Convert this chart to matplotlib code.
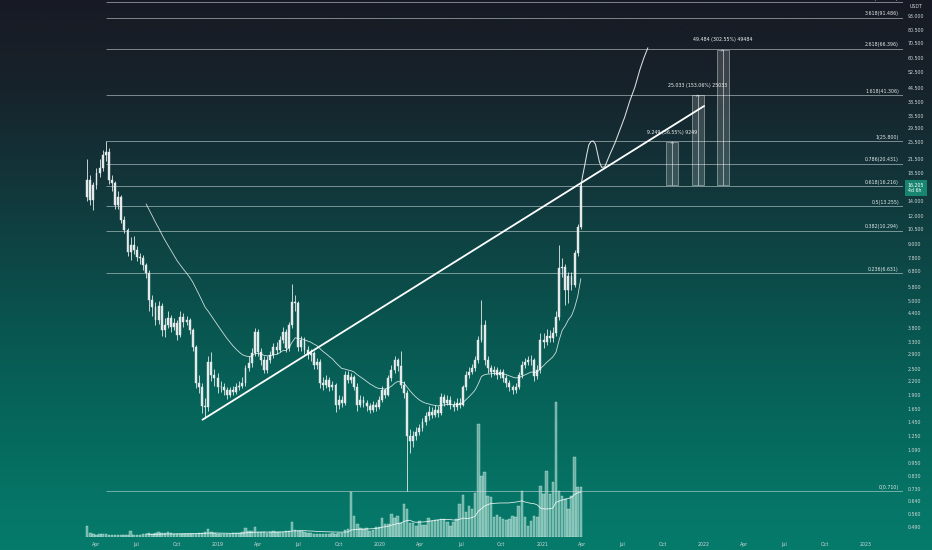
import numpy as np
import pandas as pd
import matplotlib
matplotlib.use("Agg")
import matplotlib.pyplot as plt
import matplotlib.dates as mdates
import matplotlib.transforms as mtransforms
from matplotlib.patches import Rectangle
from matplotlib.ticker import NullLocator, NullFormatter

# ---------------- data ----------------
first_week = "2018-03-12"
first_open = 14.5

closes = [17.30, 14.09, 16.43, 18.60, 19.60, 22.35, 23.05, 17.30, 16.77, 13.39,
          14.53, 11.48, 10.36, 8.27, 8.89, 8.44, 7.86, 7.78, 7.24, 6.67,
          5.06, 4.70, 4.12, 4.75, 3.72, 3.91, 4.21, 3.84, 4.00, 3.53,
          4.25, 4.04, 4.12, 3.72, 3.13, 2.16, 2.08, 1.70, 1.68, 2.68,
          2.34, 2.27, 2.06, 2.08, 2.01, 1.91, 2.01, 1.97, 2.06, 2.10,
          2.16, 2.52, 2.65, 2.94, 3.64, 2.97, 2.73, 2.47, 2.73, 2.88,
          3.13, 3.03, 3.36, 3.64, 3.10, 3.91, 4.95, 4.90, 3.13, 3.36,
          3.03, 2.88, 2.94, 2.60, 2.68, 2.16, 2.12, 2.23, 2.08, 2.12,
          1.73, 1.82, 1.76, 2.34, 2.23, 2.29, 2.08, 1.73, 1.82, 1.76,
          1.70, 1.64, 1.73, 1.68, 1.82, 2.01, 1.91, 2.27, 2.47, 2.73,
          2.57, 2.12, 1.95, 1.25, 1.19, 1.25, 1.31, 1.36, 1.44, 1.53,
          1.61, 1.56, 1.64, 1.59, 1.86, 1.76, 1.82, 1.73, 1.68, 1.76,
          1.73, 2.06, 2.34, 2.42, 2.52, 2.73, 3.36, 3.91, 2.73, 2.52,
          2.42, 2.47, 2.34, 2.42, 2.27, 2.16, 2.06, 2.01, 2.08, 2.34,
          2.60, 2.68, 2.73, 2.73, 2.32, 2.47, 3.36, 3.29, 3.50, 3.43,
          3.60, 4.25, 7.02, 7.10, 5.60, 6.46, 5.90, 8.19, 10.70, 16.205]

highs = [21.5, 18.2, 17.0, 19.5, 21.5, 23.5, 25.8, 24.0, 18.3, 17.2,
         15.5, 14.9, 11.9, 10.6, 9.6, 9.7, 8.8, 8.2, 8.0, 7.4,
         6.9, 5.3, 4.95, 5.0, 4.9, 4.2, 4.5, 4.35, 4.2, 4.1,
         4.5, 4.4, 4.3, 4.2, 3.8, 3.2, 2.35, 2.15, 1.85, 2.85,
         2.95, 2.5, 2.4, 2.2, 2.15, 2.08, 2.08, 2.1, 2.15, 2.2,
         2.3, 2.6, 2.85, 3.1, 3.8, 3.75, 3.1, 2.85, 2.85, 3.0,
         3.25, 3.3, 3.5, 3.85, 3.75, 4.05, 5.95, 5.3, 5.0, 3.5,
         3.45, 3.15, 3.05, 3.0, 2.8, 2.75, 2.3, 2.35, 2.3, 2.2,
         2.15, 1.9, 1.88, 2.45, 2.45, 2.4, 2.35, 2.15, 1.9, 1.88,
         1.82, 1.75, 1.8, 1.78, 1.88, 2.1, 2.05, 2.35, 2.6, 2.85,
         2.8, 3.0, 2.2, 2.0, 1.35, 1.32, 1.38, 1.42, 1.5, 1.6,
         1.7, 1.68, 1.72, 1.7, 1.95, 1.92, 1.9, 1.88, 1.8, 1.85,
         1.85, 2.12, 2.45, 2.55, 2.62, 2.85, 3.5, 5.06, 4.1, 2.85,
         2.6, 2.58, 2.55, 2.5, 2.48, 2.35, 2.22, 2.12, 2.15, 2.42,
         2.7, 2.8, 2.85, 2.88, 2.8, 2.6, 3.6, 3.6, 3.75, 3.7,
         3.85, 4.5, 8.9, 7.8, 7.3, 6.7, 6.7, 8.4, 11.0, 17.0]

lows = [13.9, 13.4, 12.7, 15.8, 17.8, 19.0, 21.0, 16.6, 15.5, 12.9,
        12.8, 11.1, 10.0, 7.9, 7.6, 8.1, 7.5, 7.3, 6.9, 6.3,
        4.5, 4.3, 3.9, 3.95, 3.5, 3.45, 3.8, 3.65, 3.7, 3.35,
        3.45, 3.85, 3.9, 3.55, 3.0, 2.05, 1.95, 1.58, 1.50, 1.62,
        2.2, 2.1, 1.95, 1.96, 1.9, 1.83, 1.86, 1.9, 1.92, 2.0,
        2.04, 2.1, 2.45, 2.55, 2.85, 2.85, 2.6, 2.38, 2.4, 2.65,
        2.8, 2.9, 2.95, 3.25, 2.95, 3.0, 3.8, 4.5, 3.0, 3.0,
        2.9, 2.75, 2.7, 2.5, 2.5, 2.05, 2.0, 2.05, 1.98, 2.0,
        1.6, 1.65, 1.68, 1.72, 2.15, 2.15, 2.0, 1.62, 1.68, 1.68,
        1.62, 1.58, 1.6, 1.62, 1.65, 1.78, 1.85, 1.88, 2.2, 2.4,
        2.45, 2.05, 1.85, 0.71, 1.05, 1.12, 1.2, 1.26, 1.32, 1.4,
        1.48, 1.5, 1.52, 1.52, 1.55, 1.7, 1.72, 1.66, 1.62, 1.64,
        1.67, 1.7, 2.0, 2.28, 2.36, 2.45, 2.65, 3.3, 2.6, 2.4,
        2.3, 2.34, 2.25, 2.28, 2.18, 2.08, 1.98, 1.93, 1.95, 2.02,
        2.28, 2.52, 2.6, 2.6, 2.2, 2.25, 2.4, 3.1, 3.2, 3.3,
        3.3, 3.5, 4.1, 6.4, 4.8, 4.9, 5.6, 5.8, 7.9, 10.5]

volumes = [11, 4, 3, 2, 3, 3, 3, 2, 2, 2, 2, 2, 2, 2,
           6, 2, 2, 2, 3, 3, 4, 3, 4, 5, 4, 4, 5, 4, 3, 3, 3, 3, 3, 3,
           3, 3, 4, 4, 5, 8, 5, 4, 3, 3, 3, 3, 3, 4, 4, 4, 5, 9, 6, 6,
           10, 5, 5, 5, 4, 5, 6, 5, 5, 5, 6, 6, 15, 7, 6, 6, 5, 4, 4, 3,
           3, 3, 3, 3, 3, 4, 3, 4, 4, 7, 8, 45, 21, 13, 9, 8, 9, 6, 7, 10,
           10, 19, 13, 13, 23, 19, 21, 14, 33, 28, 14, 14, 11, 16, 12, 12, 19, 16, 17, 17,
           18, 18, 15, 11, 15, 18, 33, 42, 25, 31, 28, 44, 113, 61, 65, 41, 40, 20, 22, 20,
           18, 17, 18, 21, 20, 31, 46, 20, 11, 16, 21, 20, 51, 43, 66, 43, 55, 135, 46, 41,
           38, 28, 41, 80, 50, 50]

fib_low = 0.710
fib_high = 25.800
fib_ratios = [0, 0.236, 0.382, 0.5, 0.618, 0.786, 1, 1.618, 2.618, 3.618, 4.236]
fib_ratio_labels = ["0", "0.236", "0.382", "0.5", "0.618", "0.786", "1",
                    "1.618", "2.618", "3.618", "4.236"]

price_ticks = [93.0, 80.5, 70.5, 60.5, 52.5, 44.5, 38.5, 33.5, 29.5, 25.5, 21.5,
               18.5, 14.0, 12.0, 10.5, 9.0, 7.8, 6.8, 5.8, 5.0, 4.4, 3.8, 3.3,
               2.9, 2.5, 2.2, 1.9, 1.65, 1.45, 1.25, 1.09, 0.95, 0.83, 0.73,
               0.64, 0.56, 0.49]
last_price = 16.205
last_timer = "4d 6h"
quote_ccy = "USDT"

trend_dates = ["2018-11-27", "2022-01-01"]
trend_prices = [1.48, 36.95]

proj_dates = ["2021-03-29", "2021-04-02", "2021-04-07", "2021-04-12", "2021-04-16",
              "2021-04-21", "2021-04-26", "2021-05-01", "2021-05-05", "2021-05-10",
              "2021-05-15", "2021-05-22", "2021-06-02", "2021-06-14", "2021-06-25",
              "2021-07-06", "2021-07-17", "2021-07-29", "2021-08-09", "2021-08-18",
              "2021-08-27"]
proj_prices = [16.2, 18.0, 20.2, 22.8, 24.8, 25.7, 25.8, 25.0, 23.05, 20.8,
               19.7, 19.8, 22.35, 25.3, 28.9, 33.0, 38.7, 44.9, 53.5, 60.4, 67.0]

range_base = 16.355
range_starts = ["2021-10-08", "2021-12-04", "2022-01-29"]
range_days = 27
range_deltas = [9.249, 25.033, 49.484]
range_pcts = [56.55, 153.06, 302.55]
range_ticks = [9249, 25033, 49484]

ema_len = 20
vol_ma_len = 20

# ---------------- layout ----------------
W, H = 932, 550
fig = plt.figure(figsize=(W / 100, H / 100), dpi=100)
plt.rcParams["font.family"] = ["DejaVu Sans"]
FS = 3.4
TXT = "#cfd8d8"

# background gradient (top -> bottom)
stops = np.array([0.0, 0.15, 0.3, 0.4, 0.5, 0.6, 0.7, 0.8, 0.9, 1.0])
cols = np.array([(23, 26, 36), (23, 34, 42), (19, 50, 56), (16, 62, 64),
                 (12, 74, 72), (9, 86, 80), (7, 97, 88), (6, 106, 94),
                 (5, 116, 102), (6, 123, 107)]) / 255.0
tt = np.linspace(0, 1, 400)
grad = np.stack([np.interp(tt, stops, cols[:, k]) for k in range(3)], axis=-1)[:, None, :]
bg = fig.add_axes([0, 0, 1, 1], zorder=0)
bg.imshow(grad, aspect="auto", extent=(0, 1, 0, 1), interpolation="bilinear")
bg.axis("off")

rect = [0, 13 / H, 903 / W, 537 / H]
base_day = mdates.date2num(pd.Timestamp("2019-01-01"))
px_per_day = 162 / 365.25
xlim = (base_day - 218 / px_per_day, base_day + 685 / px_per_day)

dates = pd.date_range(first_week, periods=len(closes), freq="7D")
x = mdates.date2num(dates)
c = np.array(closes)
o = np.array([first_open] + closes[:-1])
hi = np.array(highs)
lo = np.array(lows)
v = np.array(volumes, dtype=float)

# volume pane
vax = fig.add_axes(rect, zorder=1)
vax.patch.set_alpha(0)
vax.set_xlim(*xlim)
vax.set_ylim(0, 537)
vax.axis("off")
vax.bar(x, v, width=5.6, facecolor=(0.82, 0.94, 0.90, 0.5),
        edgecolor=(0.90, 1.0, 0.97, 0.7), linewidth=0.3)
vma = np.convolve(v, np.ones(vol_ma_len) / vol_ma_len, mode="valid")
vax.plot(x[vol_ma_len - 1:], vma, color=(1, 1, 1, 0.85), lw=0.6)

# price pane
ax = fig.add_axes(rect, zorder=2)
ax.patch.set_alpha(0)
ax.set_yscale("log")
ax.set_xlim(*xlim)
ax.set_ylim(0.4445, 109.6)
for s in ax.spines.values():
    s.set_visible(False)

# fib levels
fib_vals = [fib_low + r * (fib_high - fib_low) for r in fib_ratios]
ax.hlines(fib_vals, x[6], xlim[1], color=(0.82, 0.87, 0.87, 0.55), lw=0.7, zorder=1)
trans = mtransforms.blended_transform_factory(ax.transAxes, ax.transData)
for lab, val in zip(fib_ratio_labels, fib_vals):
    ax.annotate(f"{lab}({val:.3f})", xy=(899 / 903, val), xycoords=trans,
                xytext=(0, 1.0), textcoords="offset points", ha="right", va="bottom",
                fontsize=FS, color="#e2e8e8", annotation_clip=False)

# candles
cc = "#e4eaea"
ax.vlines(x, lo, hi, color=cc, lw=0.6, zorder=3)
ax.bar(x, np.abs(c - o), bottom=np.minimum(o, c), width=4.3, color=cc,
       edgecolor=cc, linewidth=0.3, zorder=4)

# EMA of closes
ema = np.full(len(c), np.nan)
ema[ema_len - 1] = c[:ema_len].mean()
alpha = 2 / (ema_len + 1)
for i in range(ema_len, len(c)):
    ema[i] = alpha * c[i] + (1 - alpha) * ema[i - 1]
ax.plot(x, ema, color=(1, 1, 1, 0.8), lw=0.6, zorder=5)

# trend line
td = mdates.date2num(pd.to_datetime(trend_dates))
ax.plot(td, trend_prices, color="white", lw=1.3, zorder=6, solid_capstyle="round")

# projected path
pdx = mdates.date2num(pd.to_datetime(proj_dates))
ax.plot(pdx, proj_prices, color=(1, 1, 1, 0.85), lw=0.75, zorder=6)

# price range targets
for st, d, pct, tk in zip(range_starts, range_deltas, range_pcts, range_ticks):
    s0 = mdates.date2num(pd.Timestamp(st))
    top = range_base + d
    ax.add_patch(Rectangle((s0, range_base), range_days, d,
                           facecolor=(1, 1, 1, 0.16), edgecolor=(1, 1, 1, 0.45),
                           lw=0.6, zorder=4))
    cx = s0 + range_days / 2
    ax.vlines(cx, range_base, top, color=(1, 1, 1, 0.6), lw=0.6, zorder=5)
    ax.plot([cx - 3, cx, cx + 3], [top * 0.985, top, top * 0.985],
            color=(1, 1, 1, 0.6), lw=0.5, zorder=5)
    ax.annotate(f"{d:.3f} ({pct:.2f}%) {tk}", xy=(cx, top), xytext=(0, 7),
                textcoords="offset points", ha="center", va="center",
                fontsize=FS, color="#eef2f2")

# y axis
ax.yaxis.tick_right()
ax.set_yticks(price_ticks)
ax.set_yticklabels([f"{t:.3f}" for t in price_ticks])
ax.yaxis.set_minor_locator(NullLocator())
ax.yaxis.set_minor_formatter(NullFormatter())
ax.tick_params(axis="y", length=0, pad=3.4, labelsize=FS, labelcolor=TXT)

# last price tag
ax.annotate(f"{last_price:.3f}\n{last_timer}", xy=(1, last_price), xycoords=trans,
            xytext=(3.4, 2.6), textcoords="offset points", ha="left", va="top",
            fontsize=FS, color="white", linespacing=1.1, annotation_clip=False,
            bbox=dict(boxstyle="square,pad=0.5", fc="#17856f", ec="none"))
fig.text(916 / W, 1 - 6.5 / H, quote_ccy, ha="center", va="center",
         fontsize=FS, color=TXT)

# x axis
xt = pd.date_range("2018-04-01", "2023-01-01", freq="QS")
ax.set_xticks(mdates.date2num(xt))
ax.set_xticklabels([str(d.year) if d.month == 1 else d.strftime("%b") for d in xt])
ax.tick_params(axis="x", length=0, pad=3.6, labelsize=FS, labelcolor=TXT)

fig.savefig("out.png", dpi=100)
